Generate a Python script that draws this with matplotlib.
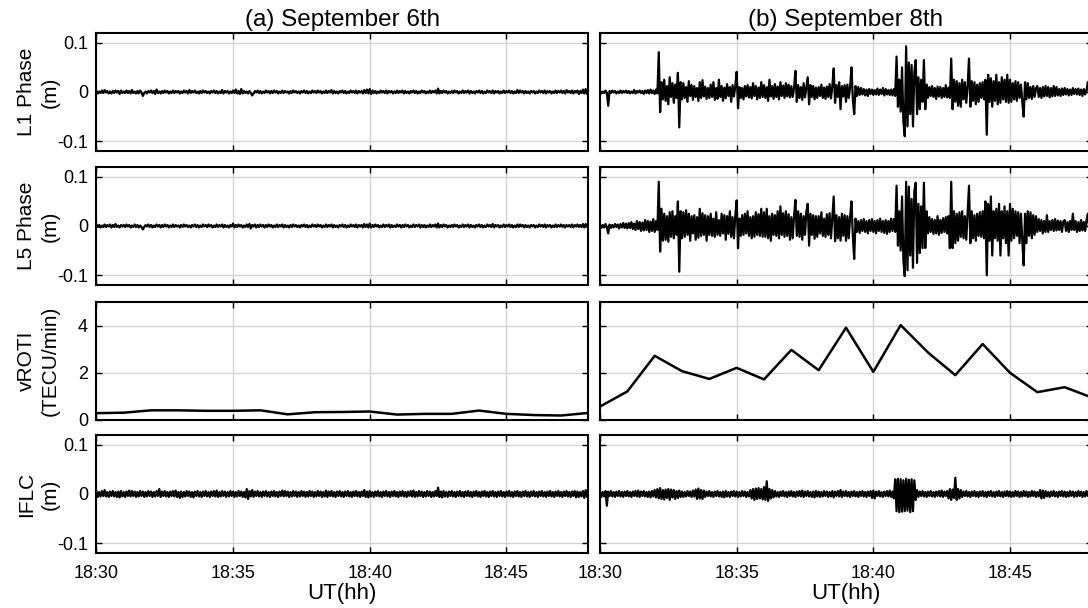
import numpy as np
import matplotlib.pyplot as plt

plt.rcParams['font.family'] = ['Liberation Sans', 'DejaVu Sans']

# phase residuals in mm, one sample every 0.05 min (3 s) from 18:30,
# one row per minute
l1_sep6 = [
    2, -3, 1, -2, 3, -2, 4, -1, 2, -3, 1, -3, 2, -2, 3, -1, 2, -4, 3, -2,
    1, -2, 3, -2, 2, -3, 4, -2, 1, -3, 2, -3, 3, -1, -8, -2, 1, -3, 2, -1,
    3, -2, 2, -4, 5, -2, 1, -3, 2, -2, 3, -1, 2, -3, 1, -2, 3, -2, 2, -1,
    2, -3, 1, -2, 3, -1, 2, -3, 4, -2, 2, -1, 3, -2, 1, -3, 2, -2, 3, -1,
    2, -2, 1, -3, 2, -1, 3, -2, 2, -3, 1, -2, 4, -3, 2, -1, 2, -3, 1, -2,
    3, -2, 5, -3, 2, -4, 6, -3, 2, -2, 1, -3, 2, -2, -7, -3, 2, -1, 3, -2,
    2, -3, 1, -2, 3, -1, 2, -3, 2, -2, 3, -1, 2, -3, 1, -2, 3, -2, 2, -1,
    1, -3, 2, -2, 3, -1, 2, -2, 1, -3, 2, -1, 3, -2, 2, -3, 1, -2, 3, -1,
    2, -2, 3, -1, 2, -3, 1, -2, 3, -2, 2, -1, 4, -3, 2, -2, 1, -3, 2, -1,
    3, -2, 2, -3, 1, -2, 3, -1, 2, -2, 3, -3, 2, -1, 2, -3, 4, -2, 5, -3,
    6, -4, 3, -2, 2, -3, 1, -2, 3, -1, 2, -2, 3, -3, 2, -1, 2, -3, 1, -2,
    3, -2, 2, -1, 3, -3, 2, -2, 1, -3, 2, -1, 3, -2, 2, -3, 1, -2, 3, -1,
    2, -3, 1, -2, 3, -2, 2, -1, 3, -3, 7, -3, 2, -2, 3, -1, 2, -3, 1, -2,
    2, -2, 3, -1, 2, -3, 1, -2, 3, -2, 2, -1, 3, -3, 2, -2, 1, -3, 2, -1,
    3, -2, 2, -3, 1, -2, 3, -1, 2, -2, 3, -3, 2, -1, 2, -3, 1, -2, 3, -2,
    2, -1, 3, -2, 2, -3, 1, -2, 4, -2, 3, -1, 2, -3, 2, -2, 1, -3, 2, -1,
    2, -3, 1, -2, 3, -1, 2, -2, 3, -3, 2, -1, 2, -3, 1, -2, 3, -2, 2, -1,
    3, -2, 2, -3, 4, -1, 2, -2, 3, -3, 2, -1, 3, -4, 2, -2, 5, -3, 6, -4,
    3]
l5_sep6 = [
    3, -2, 2, -3, 1, -2, 3, -2, 2, -1, 3, -3, 2, -2, 4, -2, 1, -3, 2, -1,
    2, -2, 3, -1, 2, -3, 1, -2, 3, -2, 2, -3, 1, -2, -7, -2, 2, -1, 3, -2,
    2, -3, 1, -2, 3, -1, 2, -3, 2, -2, 3, -1, 2, -3, 1, -2, 3, -2, 2, -1,
    1, -3, 2, -2, 3, -1, 2, -2, 1, -3, 2, -1, 3, -2, 2, -3, 1, -2, 3, -1,
    2, -2, 3, -1, 2, -3, 1, -2, 3, -2, 2, -1, 3, -3, 2, -2, 1, -3, 2, -1,
    5, -3, 2, -2, 3, -1, 2, -3, 1, -2, 3, -2, 4, -5, 2, -1, 3, -3, 2, -2,
    3, -1, 2, -3, 2, -2, 3, -1, 2, -3, 1, -2, 3, -2, 2, -1, 3, -3, 2, -2,
    1, -3, 2, -2, 3, -1, 2, -2, 1, -3, 2, -1, 3, -2, 2, -3, 1, -2, 3, -1,
    2, -2, 3, -1, 2, -3, 1, -2, 3, -2, 2, -1, 3, -3, 2, -2, 1, -3, 2, -1,
    3, -2, 2, -3, 1, -2, 3, -1, 2, -2, 3, -3, 2, -1, 2, -3, 4, -2, 3, -3,
    5, -3, 2, -2, 3, -1, 2, -3, 1, -2, 3, -2, 2, -1, 3, -3, 2, -2, 1, -2,
    3, -1, 2, -3, 2, -2, 3, -1, 2, -3, 1, -2, 3, -2, 2, -1, 3, -3, 2, -2,
    2, -3, 1, -2, 3, -2, 2, -1, 3, -3, 5, -3, 2, -2, 3, -1, 2, -3, 1, -2,
    2, -2, 3, -1, 2, -3, 1, -2, 3, -2, 2, -1, 3, -3, 2, -2, 1, -3, 2, -1,
    3, -2, 2, -3, 1, -2, 3, -1, 2, -2, 4, -3, 2, -1, 2, -3, 1, -2, 3, -2,
    2, -1, 3, -2, 2, -3, 1, -2, 3, -2, 3, -1, 2, -3, 2, -2, 1, -3, 2, -1,
    2, -3, 1, -2, 3, -1, 2, -2, 3, -3, 2, -1, 2, -3, 1, -2, 3, -2, 2, -1,
    3, -2, 2, -3, 2, -1, 2, -2, 3, -3, 2, -1, 3, -2, 2, -2, 4, -3, 4, -2,
    3]
iflc_sep6 = [
    5, -6, 4, -5, 6, -4, 8, -5, 4, -6, 5, -4, 6, -5, 4, -6, 5, -7, 6, -5,
    4, -6, 5, -4, 7, -5, 6, -4, 5, -6, 4, -5, 6, -4, 5, -6, 4, -5, 6, -4,
    5, -6, 4, -5, 6, -4, 10, -6, 5, -4, 6, -5, 4, -6, 5, -4, 6, -5, 7, -6,
    4, -8, 5, -6, 4, -5, 6, -4, 5, -6, 4, -7, 5, -4, 6, -5, 4, -6, 5, -4,
    6, -5, 4, -6, 5, -4, 6, -5, 7, -6, 4, -5, 6, -4, 5, -6, 4, -5, 6, -4,
    5, -6, 4, -5, 6, -4, 5, -6, 4, -7, 10, -10, 6, -5, 8, -6, 5, -4, 6, -5,
    4, -6, 5, -4, 6, -5, 4, -6, 5, -4, 6, -5, 4, -6, 5, -4, 7, -5, 6, -4,
    5, -6, 4, -5, 6, -4, 5, -6, 4, -5, 6, -4, 5, -6, 4, -5, 6, -4, 5, -6,
    4, -5, 6, -4, 5, -6, 4, -5, 7, -6, 5, -4, 6, -5, 4, -6, 5, -4, 6, -5,
    4, -6, 5, -4, 6, -5, 4, -6, 5, -4, 6, -5, 4, -6, 5, -4, 8, -6, 5, -7,
    6, -5, 4, -6, 5, -4, 6, -5, 4, -6, 5, -4, 6, -5, 4, -6, 5, -4, 6, -5,
    4, -6, 5, -4, 6, -5, 4, -6, 5, -4, 6, -5, 7, -6, 4, -5, 6, -4, 5, -6,
    4, -5, 6, -4, 5, -6, 4, -5, 6, -4, 13, -6, 5, -7, 6, -5, 4, -6, 5, -4,
    6, -5, 4, -6, 5, -4, 6, -5, 4, -6, 5, -4, 6, -5, 4, -6, 5, -4, 6, -5,
    4, -6, 5, -4, 6, -5, 4, -6, 5, -4, 6, -5, 4, -6, 5, -4, 6, -5, 4, -6,
    5, -4, 6, -5, 4, -6, 5, -4, 6, -5, 4, -6, 5, -4, 6, -5, 4, -6, 5, -4,
    6, -5, 4, -6, 5, -4, 6, -5, 4, -6, 5, -4, 6, -5, 4, -6, 5, -4, 6, -5,
    4, -6, 5, -4, 6, -5, 4, -6, 5, -4, 6, -7, 5, -6, 4, -5, 6, -8, 8, -6,
    5]

l1_sep8 = [
    2, -3, 1, -2, 3, -1, -28, 2, -2, 3, -1, 2, -3, 1, -2, 3, -2, 2, -1, 3,
    -2, 2, -3, 1, -2, 4, -3, 2, -1, 3, -2, 2, -4, 3, -2, 4, -3, 5, -2, 3,
    -4, 5, -3, 81, -41, 20, -15, 25, -18, 12, -25, 30, -10, 18, -22, 15, -12, 39, -72, 20,
    -15, 18, -12, 10, -20, 22, -8, 14, -16, 12, -10, 8, -18, 20, -12, 24, -9, 11, -14, 8,
    -12, 15, -10, 20, -16, 8, -14, 25, -10, 12, -18, 9, -13, 16, -8, 10, -20, 14, -9, 12,
    41, -33, 10, -12, 8, -15, 12, -9, 14, -11, 10, -13, 18, -8, 12, -15, 9, -12, 20, -10,
    14, -12, 10, -18, 25, -9, 12, -14, 16, -10, 11, -15, 20, -8, 13, -12, 18, -9, 15, -11,
    12, -10, 8, 43, -20, 14, -12, 10, -16, 18, -11, 9, 30, -25, 14, -10, 12, -15, 9, -12,
    10, -8, 15, -12, 9, -14, 11, -10, 16, -13, 12, 48, -22, 14, -10, 20, -35, 12, -9, 14,
    -20, 15, -12, 10, 50, -15, -45, 12, -8, 10, -6, 8, -5, 6, -7, 5, -8, 6, -4, 5,
    -6, 4, -5, 7, -6, 5, -4, 8, -7, 6, -5, 4, -6, 5, -7, 6, -8, 72, -30, 25,
    -40, 50, -60, -90, 93, -70, 60, -45, 55, -70, 40, 65, -45, 30, -35, 25, -20, 65, -35, 15,
    -12, 10, -8, 12, -10, 8, -14, 11, -9, 10, -12, 8, -10, 14, -11, 9, -12, 68, -35, 25,
    -20, 22, -28, 18, -30, 25, -15, 20, -22, 12, 68, -30, 22, -18, 20, -25, 15, -20, 18, -12,
    20, -15, 25, -87, 35, -20, 28, -30, 22, -18, 35, -25, 20, -22, 30, -15, 25, -20, 35, -22,
    25, -20, 18, -15, 22, -18, 20, -12, 15, -20, -50, 20, -15, 18, -12, 10, -14, 12, -10, 8,
    12, -10, 8, -12, 10, -9, 12, -8, 10, -11, 8, -9, 12, -8, 10, -7, 6, -8, 7, -6,
    8, -5, 6, -7, 5, -6, 8, -4, 6, -5, 7, -6, 5, -8, 6, -5, 4, 20, -6, 5,
    -4]
l5_sep8 = [
    3, -4, 2, -3, 4, -2, -15, 3, -4, 2, -3, 4, -2, 3, -5, 4, -3, 6, -4, 5,
    -5, 6, -4, 8, -6, 5, -8, 10, -6, 8, -10, 7, -9, 12, -8, 10, -12, 9, -10, 14,
    -12, 10, -8, 90, -52, 35, -30, 25, -28, 20, -32, 28, -22, 30, -25, 20, -18, 50, -93, 30,
    -25, 28, -22, 32, -18, 25, -30, 20, -15, 22, -28, 18, -24, 35, -20, 26, -18, 22, -30, 20,
    -18, 25, -20, 15, -22, 28, -18, 12, -20, 25, -15, 22, -28, 20, -16, 30, -22, 18, -25, 20,
    52, -45, 15, -20, 22, -18, 25, -15, 30, -20, 18, -25, 20, -22, 28, -18, 24, -20, 35, -22,
    28, -22, 35, -25, 20, -30, 25, -18, 22, -20, 30, -25, 40, -18, 26, -22, 30, -20, 24, -28,
    18, -25, 20, 53, -20, 30, -22, 25, -28, 20, -18, 30, 45, -40, 25, -18, 22, -26, 20, -22,
    20, -15, 28, -20, 15, -22, 24, -18, 26, -25, 18, 60, -31, 22, -25, 18, -30, 25, -20, 22,
    -30, 20, -25, 18, 50, -20, -67, 15, -12, 10, -14, 12, -10, 14, -12, 10, -15, 12, -10, 14,
    -12, 10, -15, 12, -10, 15, -12, 10, -14, 12, -16, 10, -12, 15, -10, 14, -12, 82, -40, 30,
    -50, 60, -70, -102, 90, -90, 80, -60, 55, -85, 70, 88, -75, 45, -55, 40, -45, 88, -45, 30,
    -15, 18, -12, 14, -16, 12, -15, 20, -18, 12, -14, 16, -12, 18, -15, 20, -45, 90, -45, 30,
    -35, 25, -30, 28, -22, 30, -25, 20, -28, 26, 82, -35, 30, -25, 22, -30, 25, -20, 28, -22,
    30, -25, 50, -100, 45, -30, 60, -60, 30, -25, 35, -30, 45, -60, 30, -25, 40, -35, 30, -60,
    45, -30, 35, -25, 30, -20, 28, -35, 25, -30, -80, 25, -35, 30, -20, 28, -25, 22, -18, 20,
    -12, 14, -10, 12, -15, 10, -12, 22, -12, 10, -8, 12, -10, 14, -9, 11, -8, 10, -12, 9,
    12, -10, 8, -12, 10, -8, 25, -8, 10, -12, 8, -10, 12, -9, 8, -10, 12, 25, -10, 8,
    -6]
iflc_sep8 = [
    5, -6, 4, -5, 6, -24, 5, -4, 6, -5, 4, -6, 5, -4, 6, -5, 4, -6, 5, -4,
    6, -5, 4, -6, 5, -4, 6, -5, 7, -6, 5, -4, 6, -5, 4, -6, 5, -7, 6, -5,
    8, -7, 10, -9, 12, -10, 8, -11, 9, -8, 10, -12, 9, -7, 8, -10, 6, -8, 7, -6,
    5, -6, 4, -5, 6, -4, 5, -6, 7, -5, 9, -10, 11, -9, 8, -10, 7, -6, 5, -4,
    6, -5, 4, -6, 5, -4, 6, -5, 4, -6, 5, -7, 6, -5, 4, -6, 5, -4, 6, -5,
    5, -6, 4, -5, 6, -4, 5, -6, 4, -5, 8, -9, 10, -12, 11, -10, 12, -9, 10, -11,
    14, -12, 26, -14, 10, -9, 8, -7, 6, -5, 4, -6, 5, -4, 6, -5, 4, -6, 5, -4,
    6, -5, 4, -6, 5, -4, 6, -5, 7, -6, 5, -4, 6, -5, 4, -6, 5, -7, 6, -5,
    5, -6, 4, -5, 6, -4, 5, -6, 4, -5, 6, -7, 5, -4, 6, -5, 8, -6, 5, -4,
    6, -5, 4, -6, 5, -4, 6, -5, 4, -6, 5, -4, 6, -5, 4, -6, 5, -4, 6, -8,
    7, -9, 5, -4, 6, -5, 4, -6, 5, -4, 6, -5, 7, -6, 5, -9, 30, -35, 31, -37,
    30, -36, 28, -35, 31, -34, 29, -37, 30, -35, 28, -12, 8, -6, 5, -4, 6, -5, 4, -6,
    5, -4, 6, -5, 4, -6, 5, -4, 6, -5, 7, -6, 5, -4, 6, -9, 10, -12, 9, -8,
    33, -12, 10, -9, 8, -6, 5, -4, 6, -5, 4, -6, 5, -4, 6, -5, 4, -6, 5, -4,
    6, -5, 4, -6, 5, -4, 6, -5, 4, -6, 5, -4, 6, -5, 4, -6, 5, -4, 6, -5,
    5, -6, 4, -5, 6, -4, 5, -6, 4, -5, 6, -4, 5, -6, 4, -5, 6, -4, 5, -6,
    4, -5, 8, -9, 7, -8, 6, -5, 4, -6, 5, -4, 6, -5, 4, -6, 5, -4, 6, -5,
    5, -6, 4, -5, 6, -4, 5, -6, 4, -5, 6, -4, 5, -6, 4, -5, 6, -4, 5, -6,
    5]

# vROTI, one value per minute
vroti_sep6 = [0.29, 0.31, 0.41, 0.41, 0.39, 0.39, 0.41, 0.24, 0.33, 0.34,
              0.36, 0.23, 0.26, 0.26, 0.40, 0.26, 0.21, 0.19, 0.30]
vroti_sep8 = [0.57, 1.21, 2.72, 2.07, 1.74, 2.21, 1.72, 2.97, 2.11, 3.91,
              2.04, 4.02, 2.86, 1.90, 3.22, 2.00, 1.18, 1.39, 0.95]

tick_min = [0, 5, 10, 15]
tick_labels = ['18:30', '18:35', '18:40', '18:45']
titles = ['(a) September 6th', '(b) September 8th']
ylabels = ['L1 Phase\n(m)', 'L5 Phase\n(m)', 'vROTI\n(TECU/min)', 'IFLC\n(m)']

t_fast = np.arange(len(l1_sep6)) * 0.05
t_min = np.arange(len(vroti_sep6))

rows = [
    (t_fast, np.array(l1_sep6) / 1000, np.array(l1_sep8) / 1000),
    (t_fast, np.array(l5_sep6) / 1000, np.array(l5_sep8) / 1000),
    (t_min, np.array(vroti_sep6), np.array(vroti_sep8)),
    (t_fast, np.array(iflc_sep6) / 1000, np.array(iflc_sep8) / 1000),
]

W, H = 1088, 608
fig = plt.figure(figsize=(W / 100, H / 100), dpi=100)

col_x = [96.4, 600]
col_w = 492
row_top = [33, 167, 302, 435]
row_h = 118

for r, (t, left_y, right_y) in enumerate(rows):
    for c, y in enumerate([left_y, right_y]):
        ax = fig.add_axes([col_x[c] / W, 1 - (row_top[r] + row_h) / H, col_w / W, row_h / H])
        ax.plot(t, y, color='black', lw=1.6 if r != 2 else 1.8)
        ax.set_xlim(0, 18)
        if r == 2:
            ax.set_ylim(0, 5)
            ax.set_yticks([0, 2, 4])
            ax.set_yticklabels(['0', '2', '4'])
        else:
            ax.set_ylim(-0.12, 0.12)
            ax.set_yticks([-0.1, 0, 0.1])
            ax.set_yticklabels(['-0.1', '0', '0.1'])
        ax.set_xticks(tick_min)
        ax.grid(True, color='#d4d4d4', lw=1.0)
        ax.set_axisbelow(True)
        for s in ax.spines.values():
            s.set_linewidth(1.5)
        ax.tick_params(direction='in', top=True, right=True, length=4, width=1,
                       labelsize=13)
        ax.tick_params(axis='x', pad=9)
        ax.tick_params(axis='y', pad=6)
        if r == 3:
            ax.set_xticklabels(tick_labels)
            ax.set_xlabel('UT(hh)', fontsize=16, labelpad=0)
        else:
            ax.set_xticklabels([])
        if c == 0:
            ax.set_ylabel(ylabels[r], fontsize=15, linespacing=1.3)
            ax.yaxis.set_label_coords(-0.075, 0.5)
        else:
            ax.tick_params(labelleft=False)
        if r == 0:
            ax.set_title(titles[c], fontsize=17.5, pad=5)

fig.savefig('out.png', dpi=100)
